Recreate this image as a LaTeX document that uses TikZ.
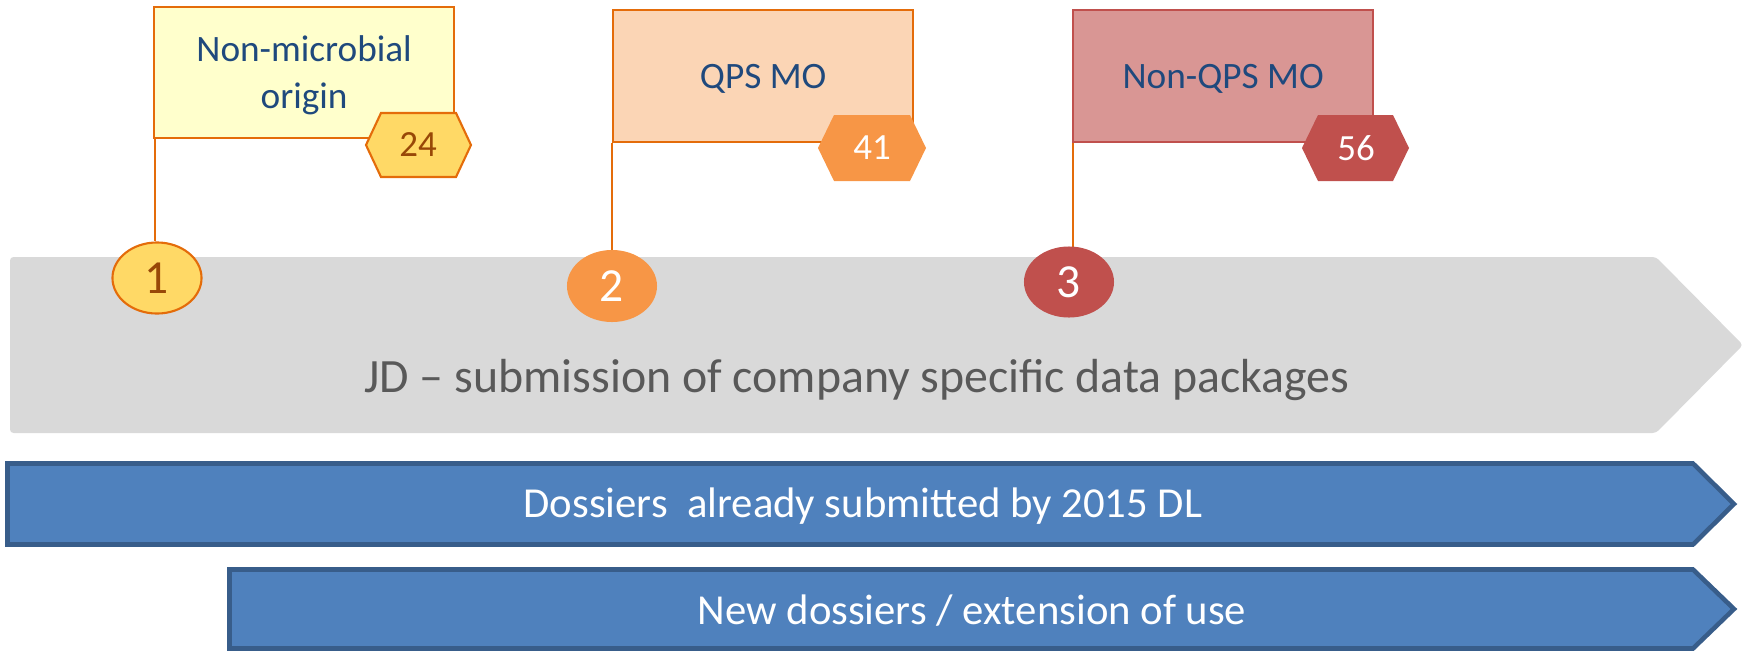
\documentclass[tikz,border=0pt]{standalone}
\usepackage{fontspec}
\setmainfont{Carlito}
\usetikzlibrary{shapes.geometric}
\definecolor{greyarrow}{HTML}{D9D9D9}
\definecolor{greytext}{HTML}{595959}
\definecolor{bluefill}{HTML}{4F81BD}
\definecolor{bluedraw}{HTML}{385D8A}
\definecolor{flagtext}{HTML}{1F497D}
\definecolor{orangeline}{HTML}{E46C0A}
\definecolor{yellowflag}{HTML}{FFFFCC}
\definecolor{yellowbadge}{HTML}{FFD966}
\definecolor{browntext}{HTML}{984807}
\definecolor{peachflag}{HTML}{FBD5B5}
\definecolor{orangebadge}{HTML}{F79646}
\definecolor{roseflag}{HTML}{D99694}
\definecolor{redbadge}{HTML}{C0504D}
\begin{document}
\begin{tikzpicture}[x=0.01cm,y=-0.01cm,
  flagbox/.style={anchor=north west, minimum width=3cm, minimum height=1.31cm, inner sep=0pt, line width=0.6pt},
  flaglabel/.style={inner sep=0pt, align=center, text=flagtext, font=\fontsize{10.6}{13.3}\selectfont},
  numoval/.style={ellipse, inner sep=0pt, minimum width=0.89cm, minimum height=0.71cm, font=\fontsize{13.5}{15}\selectfont},
  hexlabel/.style={inner sep=0pt, font=\fontsize{10.5}{12}\selectfont},
  pole/.style={line width=0.6pt, draw=orangeline},
  bluebar/.style={fill=bluefill, draw=bluedraw, line width=1.3pt, line join=miter},
  bartext/.style={text=white, font=\fontsize{12.15}{14}\selectfont}]
\useasboundingbox (0,0) rectangle (1750,651);

% grey timeline arrow
\fill[greyarrow, rounded corners=1pt] (10,257) -- (1656,257) -- (1743,345) -- (1656,433) -- (10,433) -- cycle;
\node[text=greytext, font=\fontsize{13.6}{15}\selectfont] (jd) at (857,380) {JD -- submission of company specific data packages};

% blue bars
\draw[bluebar] (7.5,463.5) -- (1693,463.5) -- (1734,504) -- (1693,544.5) -- (7.5,544.5) -- cycle;
\node[bartext] (dossiers) at (863,506) {Dossiers\ \ already submitted by 2015 DL};
\draw[bluebar] (229.5,569.5) -- (1693,569.5) -- (1734,609) -- (1693,648.5) -- (229.5,648.5) -- cycle;
\node[bartext] (newdos) at (972,611) {New dossiers / extension of use};

% flag 1
\node[flagbox, fill=yellowflag, draw=orangeline] (f1) at (153,6) {};
\node[flaglabel] (t1) at ([yshift=-0.025cm]f1.center) {Non-microbial\\origin};
\node[numoval, fill=yellowbadge, draw=orangeline, line width=0.6pt, text=browntext] (e1) at (157,278) {1};
\draw[pole] ([xshift=0.02cm]f1.south west) -- ([xshift=0.02cm]f1.south west |- e1.north);
\filldraw[fill=yellowbadge, draw=orangeline, line width=0.6pt] (366,145) -- (381,113) -- (456,113) -- (471,145) -- (456,177) -- (381,177) -- cycle;
\node[hexlabel, text=browntext] (h1) at (418,145) {24};

% flag 2
\node[flagbox, fill=peachflag, draw=orangeline, minimum height=1.32cm] (f2) at (612,9) {};
\node[flaglabel] (t2) at ([yshift=-0.03cm]f2.center) {QPS MO};
\draw[pole] (f2.south west) -- (f2.south west |- 612,252);
\node[numoval, fill=orangebadge, text=white, minimum width=0.9cm, minimum height=0.72cm] (e2) at (612,286) {2};
\fill[orangebadge] (818,148) -- (834,115) -- (910,115) -- (926,148) -- (910,181) -- (834,181) -- cycle;
\node[hexlabel, text=white] (h2) at (872,148) {41};

% flag 3
\node[flagbox, fill=roseflag, draw=redbadge, minimum height=1.32cm] (f3) at (1072,9) {};
\node[flaglabel] (t3) at ([yshift=-0.03cm]f3.center) {Non-QPS MO};
\draw[pole] ([xshift=0.01cm]f3.south west) -- ([xshift=0.01cm]f3.south west |- 1073,250);
\node[numoval, fill=redbadge, text=white, minimum width=0.9cm, minimum height=0.71cm] (e3) at (1069,282) {3};
\fill[redbadge] (1302,148) -- (1318,115) -- (1393,115) -- (1409,148) -- (1393,181) -- (1318,181) -- cycle;
\node[hexlabel, text=white] (h3) at (1356,148) {56};
\end{tikzpicture}
\end{document}
